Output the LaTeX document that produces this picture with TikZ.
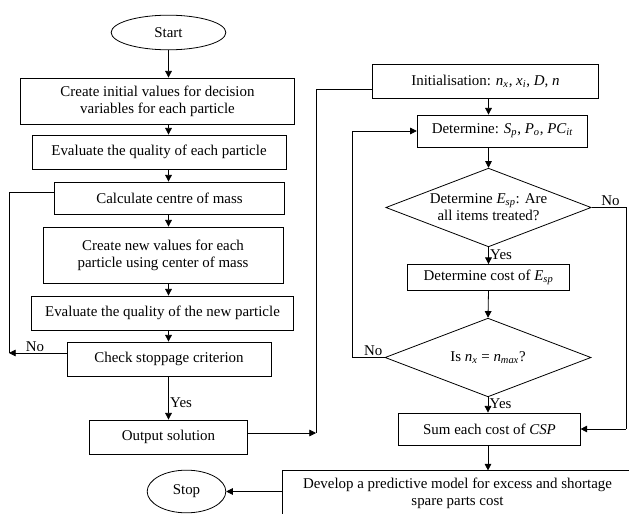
\documentclass[tikz,border=0pt]{standalone}
\usepackage{fontspec}
\setmainfont{Liberation Serif}
\usetikzlibrary{shapes.geometric}
\usetikzlibrary{arrows.meta}
\newcommand{\vsub}[2]{\textit{#1}\textsubscript{\textit{#2}}}

\begin{document}
\begin{tikzpicture}[x=0.75pt,y=-0.75pt,line width=0.6pt,
  box/.style={draw,rectangle,inner sep=0pt,align=center,font=\fontsize{11.2}{12.8}\selectfont},
  term/.style={draw,ellipse,inner sep=0pt,font=\fontsize{11.2}{12.8}\selectfont},
  decide/.style={draw,diamond,aspect=2.6,inner sep=0pt,align=center,font=\fontsize{11.2}{12.8}\selectfont},
  arr/.style={-{Triangle[length=5pt,width=5pt]}},
  lbl/.style={inner sep=1pt,font=\fontsize{11.2}{12.8}\selectfont}]
\useasboundingbox (0,0) rectangle (629,514);
\clip (0,0) rectangle (629,514);

%left column
\node[term, minimum width=86pt, minimum height=26pt] (start) at (168.5,32.5) {Start};
\node[box, minimum width=205pt, minimum height=34.5pt] (initval) at (157.5,101) {Create initial values for decision\\variables for each particle};
\node[box, minimum width=190.5pt, minimum height=25.5pt] (evalq) at (159,152) {Evaluate the quality of each particle};
\node[box, minimum width=173pt, minimum height=24pt] (centre) at (169.5,198) {Calculate centre of mass};
\node[box, minimum width=180pt, minimum height=42pt] (newval) at (163,255) {Create new values for each\\particle using center of mass};
\node[box, minimum width=196pt, minimum height=25.5pt] (evalnew) at (162.5,313) {Evaluate the quality of the new particle};
\node[box, minimum width=153pt, minimum height=25.5pt] (check) at (169,359) {Check stoppage criterion};
\node[box, minimum width=119pt, minimum height=25.5pt] (output) at (168.5,437) {Output solution};
\node[term, minimum width=59pt, minimum height=32pt] (stop) at (186.5,491.5) {Stop};

%right column
\node[box, minimum width=169pt, minimum height=26pt] (initial) at (485.5,81.5) {Initialisation: \vsub{n}{x}, \vsub{x}{i}, \textit{D}, \textit{n}};
\node[box, minimum width=128pt, minimum height=24pt] (determine) at (502.5,131) {Determine: \vsub{S}{p}, \vsub{P}{o}, \vsub{PC}{it}};
\node[decide, minimum width=154pt, minimum height=59pt] (treated) at (488.5,207.5) {Determine \vsub{E}{sp}: Are\\all items treated?};
\node[box, minimum width=122pt, minimum height=19.5pt] (cost) at (488.5,277.5) {Determine cost of \vsub{E}{sp}};
\node[decide, minimum width=154.5pt, minimum height=59pt] (nmax) at (488,357.5) {Is \vsub{n}{x} = \vsub{n}{max}?};
\node[box, minimum width=136pt, minimum height=24pt] (sum) at (489.5,429) {Sum each cost of \textit{CSP}};
\node[box, minimum width=262pt, minimum height=34pt] (develop) at (457.5,493.5) {Develop a predictive model for excess and shortage\\spare parts cost};

%free ends
\coordinate (loopl) at (9,353);
\coordinate (join) at (316,433);
\coordinate (loopr) at (352,131);
\coordinate (skip) at (626,207.5);

%left arrows
\draw[arr] (start.south) -- (initval.north -| start);
\draw[arr] (initval.south -| start) -- (evalq.north -| start);
\draw[arr] (evalq.south -| start) -- (centre.north -| start);
\draw[arr] (centre.south -| start) -- (newval.north -| start);
\draw[arr] (newval.south -| start) -- (evalnew.north -| start);
\draw[arr] (evalnew.south -| start) -- (check.north -| start);
\draw[arr] (check.south -| start) -- node[lbl, right, pos=0.6] {Yes} (output.north -| start);
\draw ([yshift=4.5pt]centre.west) -| (loopl);
\draw[arr] (check.west |- loopl) -- node[lbl, above, pos=0.55] {No} (loopl);
\draw[arr] (output.east |- join) -- (join);
\draw ([yshift=-5.6pt]initial.west) -| (join);

%right arrows
\draw[arr] (initial.south -| treated) -- (determine.north -| treated);
\draw[arr] (determine.south -| treated) -- (treated.north);
\draw[arr] (treated.south) -- node[lbl, right, pos=0.45] {Yes} (cost.north -| treated);
\draw[arr] (cost.south -| treated) -- (nmax.north);
\draw[arr] (nmax.south) -- node[lbl, right, pos=0.45] {Yes} (sum.north -| nmax);
\draw[arr] (sum.south -| nmax) -- (develop.north -| nmax);
\draw (nmax.west) -- node[lbl, above, pos=0.35] {No} (nmax.west -| loopr) -- (loopr);
\draw[arr] (loopr) -- (determine.west);
\draw (treated.east) -- node[lbl, above, pos=0.55] {No} (skip) -- (skip |- sum);
\draw[arr] (skip |- sum) -- (sum.east);
\draw[arr] (stop -| develop.west) -- (stop.east);
\end{tikzpicture}
\end{document}
